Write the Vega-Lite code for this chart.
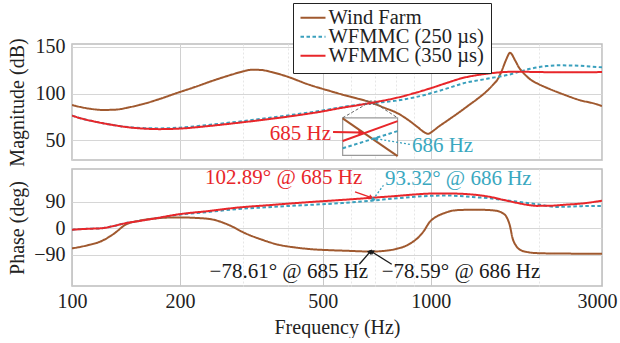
{
  "$schema": "https://vega.github.io/schema/vega-lite/v6.json",
  "padding": {"left": 6, "top": 1, "right": 0, "bottom": 0},
  "spacing": -2,
  "config": {
    "font": "Liberation Serif",
    "view": {"stroke": "#bdbdbd", "strokeWidth": 1.5},
    "axis": {"labelFont": "Liberation Serif", "titleFont": "Liberation Serif", "labelFontSize": 20, "titleFontSize": 20, "titleFontWeight": "normal", "labelColor": "#222", "titleColor": "#222", "domain": false, "ticks": false, "tickSize": 0, "gridColor": "#d6d6d6", "gridWidth": 1},
    "text": {"font": "Liberation Serif", "fontSize": 21}
  },
  "resolve": {"scale": {"color": "independent", "strokeDash": "independent"}},
  "datasets": {
    "mag": [
      {"s":"Wind Farm","f":100,"v":87.8},{"s":"Wind Farm","f":106,"v":85.5},{"s":"Wind Farm","f":113,"v":83.6},{"s":"Wind Farm","f":122,"v":82.5},{"s":"Wind Farm","f":132,"v":82.8},{"s":"Wind Farm","f":145,"v":85.5},{"s":"Wind Farm","f":160,"v":89.5},{"s":"Wind Farm","f":178,"v":95},{"s":"Wind Farm","f":194,"v":100},{"s":"Wind Farm","f":220,"v":107},{"s":"Wind Farm","f":250,"v":114.5},{"s":"Wind Farm","f":280,"v":120.5},{"s":"Wind Farm","f":300,"v":123.8},{"s":"Wind Farm","f":317,"v":125.5},{"s":"Wind Farm","f":335,"v":125.3},{"s":"Wind Farm","f":360,"v":123},{"s":"Wind Farm","f":402,"v":117.6},{"s":"Wind Farm","f":450,"v":110.5},{"s":"Wind Farm","f":524,"v":102.7},{"s":"Wind Farm","f":565,"v":99.1},{"s":"Wind Farm","f":620,"v":95},{"s":"Wind Farm","f":685,"v":90.2},{"s":"Wind Farm","f":740,"v":85},{"s":"Wind Farm","f":803,"v":79.5},{"s":"Wind Farm","f":860,"v":72.5},{"s":"Wind Farm","f":920,"v":64},{"s":"Wind Farm","f":960,"v":58.5},{"s":"Wind Farm","f":984,"v":57},{"s":"Wind Farm","f":1010,"v":59.5},{"s":"Wind Farm","f":1050,"v":64.5},{"s":"Wind Farm","f":1107,"v":70.6},{"s":"Wind Farm","f":1200,"v":80},{"s":"Wind Farm","f":1286,"v":88.5},{"s":"Wind Farm","f":1343,"v":93.8},{"s":"Wind Farm","f":1433,"v":102.7},{"s":"Wind Farm","f":1494,"v":109.8},{"s":"Wind Farm","f":1540,"v":116},{"s":"Wind Farm","f":1575,"v":124},{"s":"Wind Farm","f":1623,"v":136.5},{"s":"Wind Farm","f":1662,"v":143.6},{"s":"Wind Farm","f":1722,"v":134.7},{"s":"Wind Farm","f":1760,"v":128},{"s":"Wind Farm","f":1810,"v":122.2},{"s":"Wind Farm","f":1893,"v":115.2},{"s":"Wind Farm","f":2000,"v":110},{"s":"Wind Farm","f":2104,"v":106.2},{"s":"Wind Farm","f":2343,"v":99.1},{"s":"Wind Farm","f":2600,"v":93},{"s":"Wind Farm","f":2906,"v":88.5},{"s":"Wind Farm","f":3000,"v":86.6},
      {"s":"WFMMC (250 µs)","f":100,"v":76.5},{"s":"WFMMC (250 µs)","f":107,"v":73},{"s":"WFMMC (250 µs)","f":114,"v":70.6},{"s":"WFMMC (250 µs)","f":122,"v":68.3},{"s":"WFMMC (250 µs)","f":132,"v":66},{"s":"WFMMC (250 µs)","f":145,"v":64},{"s":"WFMMC (250 µs)","f":160,"v":63},{"s":"WFMMC (250 µs)","f":175,"v":62.8},{"s":"WFMMC (250 µs)","f":200,"v":63.6},{"s":"WFMMC (250 µs)","f":240,"v":66.5},{"s":"WFMMC (250 µs)","f":291,"v":70},{"s":"WFMMC (250 µs)","f":350,"v":73.8},{"s":"WFMMC (250 µs)","f":420,"v":77.8},{"s":"WFMMC (250 µs)","f":500,"v":82},{"s":"WFMMC (250 µs)","f":565,"v":85.5},{"s":"WFMMC (250 µs)","f":620,"v":87.8},{"s":"WFMMC (250 µs)","f":686,"v":89.8},{"s":"WFMMC (250 µs)","f":803,"v":92.5},{"s":"WFMMC (250 µs)","f":933,"v":97.3},{"s":"WFMMC (250 µs)","f":1100,"v":105},{"s":"WFMMC (250 µs)","f":1233,"v":111},{"s":"WFMMC (250 µs)","f":1433,"v":115.8},{"s":"WFMMC (250 µs)","f":1662,"v":120.5},{"s":"WFMMC (250 µs)","f":1893,"v":126.5},{"s":"WFMMC (250 µs)","f":2104,"v":129.4},{"s":"WFMMC (250 µs)","f":2245,"v":130.2},{"s":"WFMMC (250 µs)","f":2500,"v":130},{"s":"WFMMC (250 µs)","f":2777,"v":129},{"s":"WFMMC (250 µs)","f":3000,"v":128},
      {"s":"WFMMC (350 µs)","f":100,"v":76.5},{"s":"WFMMC (350 µs)","f":107,"v":73},{"s":"WFMMC (350 µs)","f":114,"v":70.6},{"s":"WFMMC (350 µs)","f":122,"v":68.3},{"s":"WFMMC (350 µs)","f":132,"v":66},{"s":"WFMMC (350 µs)","f":145,"v":63.8},{"s":"WFMMC (350 µs)","f":160,"v":62.5},{"s":"WFMMC (350 µs)","f":175,"v":62},{"s":"WFMMC (350 µs)","f":200,"v":62.6},{"s":"WFMMC (350 µs)","f":240,"v":65.3},{"s":"WFMMC (350 µs)","f":291,"v":68.8},{"s":"WFMMC (350 µs)","f":350,"v":72.5},{"s":"WFMMC (350 µs)","f":420,"v":76.5},{"s":"WFMMC (350 µs)","f":500,"v":81},{"s":"WFMMC (350 µs)","f":565,"v":84.8},{"s":"WFMMC (350 µs)","f":620,"v":87.3},{"s":"WFMMC (350 µs)","f":685,"v":90.2},{"s":"WFMMC (350 µs)","f":803,"v":95.5},{"s":"WFMMC (350 µs)","f":900,"v":100.5},{"s":"WFMMC (350 µs)","f":995,"v":105.5},{"s":"WFMMC (350 µs)","f":1100,"v":111},{"s":"WFMMC (350 µs)","f":1233,"v":116.9},{"s":"WFMMC (350 µs)","f":1350,"v":119.8},{"s":"WFMMC (350 µs)","f":1460,"v":121.6},{"s":"WFMMC (350 µs)","f":1594,"v":123},{"s":"WFMMC (350 µs)","f":1750,"v":123.4},{"s":"WFMMC (350 µs)","f":2000,"v":123},{"s":"WFMMC (350 µs)","f":2500,"v":122.7},{"s":"WFMMC (350 µs)","f":3000,"v":123}
    ],
    "phase": [
      {"s":"Wind Farm","f":100,"v":-68},{"s":"Wind Farm","f":110,"v":-58},{"s":"Wind Farm","f":121,"v":-43},{"s":"Wind Farm","f":131,"v":-18},{"s":"Wind Farm","f":141,"v":12},{"s":"Wind Farm","f":155,"v":26},{"s":"Wind Farm","f":170,"v":33},{"s":"Wind Farm","f":185,"v":36},{"s":"Wind Farm","f":200,"v":36.5},{"s":"Wind Farm","f":220,"v":35},{"s":"Wind Farm","f":245,"v":30},{"s":"Wind Farm","f":273,"v":11.5},{"s":"Wind Farm","f":304,"v":-17},{"s":"Wind Farm","f":339,"v":-39},{"s":"Wind Farm","f":377,"v":-56},{"s":"Wind Farm","f":420,"v":-65},{"s":"Wind Farm","f":467,"v":-71},{"s":"Wind Farm","f":520,"v":-74},{"s":"Wind Farm","f":565,"v":-75.5},{"s":"Wind Farm","f":685,"v":-78.6},{"s":"Wind Farm","f":760,"v":-75},{"s":"Wind Farm","f":803,"v":-69.5},{"s":"Wind Farm","f":850,"v":-60},{"s":"Wind Farm","f":893,"v":-45},{"s":"Wind Farm","f":925,"v":-30},{"s":"Wind Farm","f":954,"v":-11},{"s":"Wind Farm","f":995,"v":22.6},{"s":"Wind Farm","f":1040,"v":40},{"s":"Wind Farm","f":1088,"v":50.6},{"s":"Wind Farm","f":1155,"v":59.7},{"s":"Wind Farm","f":1233,"v":62},{"s":"Wind Farm","f":1350,"v":62.5},{"s":"Wind Farm","f":1450,"v":61.5},{"s":"Wind Farm","f":1526,"v":58.7},{"s":"Wind Farm","f":1580,"v":52},{"s":"Wind Farm","f":1623,"v":39.4},{"s":"Wind Farm","f":1660,"v":10},{"s":"Wind Farm","f":1690,"v":-33.7},{"s":"Wind Farm","f":1730,"v":-60},{"s":"Wind Farm","f":1775,"v":-73},{"s":"Wind Farm","f":1850,"v":-80},{"s":"Wind Farm","f":1973,"v":-84},{"s":"Wind Farm","f":2300,"v":-85.5},{"s":"Wind Farm","f":3000,"v":-86},
      {"s":"WFMMC (250 µs)","f":100,"v":-5},{"s":"WFMMC (250 µs)","f":110,"v":-2},{"s":"WFMMC (250 µs)","f":121,"v":0},{"s":"WFMMC (250 µs)","f":131,"v":8},{"s":"WFMMC (250 µs)","f":141,"v":17},{"s":"WFMMC (250 µs)","f":155,"v":25},{"s":"WFMMC (250 µs)","f":170,"v":33},{"s":"WFMMC (250 µs)","f":198,"v":45.5},{"s":"WFMMC (250 µs)","f":240,"v":55},{"s":"WFMMC (250 µs)","f":291,"v":65},{"s":"WFMMC (250 µs)","f":350,"v":71},{"s":"WFMMC (250 µs)","f":400,"v":75},{"s":"WFMMC (250 µs)","f":480,"v":80},{"s":"WFMMC (250 µs)","f":565,"v":85},{"s":"WFMMC (250 µs)","f":686,"v":93.3},{"s":"WFMMC (250 µs)","f":803,"v":101},{"s":"WFMMC (250 µs)","f":900,"v":106},{"s":"WFMMC (250 µs)","f":1000,"v":109.5},{"s":"WFMMC (250 µs)","f":1100,"v":110.5},{"s":"WFMMC (250 µs)","f":1233,"v":108},{"s":"WFMMC (250 µs)","f":1343,"v":104.5},{"s":"WFMMC (250 µs)","f":1460,"v":101},{"s":"WFMMC (250 µs)","f":1590,"v":95.6},{"s":"WFMMC (250 µs)","f":1733,"v":90},{"s":"WFMMC (250 µs)","f":1973,"v":81},{"s":"WFMMC (250 µs)","f":2245,"v":72},{"s":"WFMMC (250 µs)","f":2555,"v":74},{"s":"WFMMC (250 µs)","f":2777,"v":75.5},{"s":"WFMMC (250 µs)","f":3000,"v":75.5},
      {"s":"WFMMC (350 µs)","f":100,"v":-5},{"s":"WFMMC (350 µs)","f":110,"v":-2},{"s":"WFMMC (350 µs)","f":121,"v":0},{"s":"WFMMC (350 µs)","f":131,"v":8},{"s":"WFMMC (350 µs)","f":141,"v":17},{"s":"WFMMC (350 µs)","f":155,"v":25},{"s":"WFMMC (350 µs)","f":170,"v":33},{"s":"WFMMC (350 µs)","f":198,"v":47},{"s":"WFMMC (350 µs)","f":240,"v":58},{"s":"WFMMC (350 µs)","f":291,"v":70},{"s":"WFMMC (350 µs)","f":350,"v":77.5},{"s":"WFMMC (350 µs)","f":400,"v":83},{"s":"WFMMC (350 µs)","f":480,"v":90},{"s":"WFMMC (350 µs)","f":565,"v":95.6},{"s":"WFMMC (350 µs)","f":685,"v":102.9},{"s":"WFMMC (350 µs)","f":803,"v":109},{"s":"WFMMC (350 µs)","f":900,"v":114},{"s":"WFMMC (350 µs)","f":995,"v":117},{"s":"WFMMC (350 µs)","f":1100,"v":117.5},{"s":"WFMMC (350 µs)","f":1233,"v":116},{"s":"WFMMC (350 µs)","f":1350,"v":112},{"s":"WFMMC (350 µs)","f":1460,"v":106},{"s":"WFMMC (350 µs)","f":1590,"v":96},{"s":"WFMMC (350 µs)","f":1733,"v":86},{"s":"WFMMC (350 µs)","f":1893,"v":77.5},{"s":"WFMMC (350 µs)","f":1973,"v":75.5},{"s":"WFMMC (350 µs)","f":2150,"v":76},{"s":"WFMMC (350 µs)","f":2343,"v":79},{"s":"WFMMC (350 µs)","f":2667,"v":84.3},{"s":"WFMMC (350 µs)","f":3000,"v":93}
    ],
    "magAnn": [
      {"g":"insetWF","f":568,"v":73.5},{"g":"insetWF","f":808,"v":33.2},
      {"g":"insetR","f":568,"v":49.3},{"g":"insetR","f":808,"v":70.6},
      {"g":"insetT","f":568,"v":41.5},{"g":"insetT","f":808,"v":59.9},
      {"g":"arrowR","f":534,"v":58.9},{"g":"arrowR","f":636,"v":58.3},
      {"g":"arrowT","f":875,"v":45.7},{"g":"arrowT","f":705,"v":51.7},
      {"g":"conn1","f":659.6,"v":88.5},{"g":"conn1","f":568,"v":74.1},
      {"g":"conn2","f":706.9,"v":88.5},{"g":"conn2","f":808,"v":74.1}
    ],
    "magBox": [
      {"g":"inset","f":568,"f2":808,"v":34,"v2":74.1},
      {"g":"zoom","f":659.6,"f2":706.9,"v":88.5,"v2":92}
    ],
    "magHead": [
      {"g":"arrowR","f":636,"v":58.3},
      {"g":"arrowT","f":705,"v":51.7}
    ],
    "magText": [
      {"g":"R","t":"685 Hz","f":527,"v":56.7},
      {"g":"T","t":"686 Hz","f":886,"v":43.9}
    ],
    "phAnn": [
      {"g":"arrowR","f":615,"v":122.7},{"g":"arrowR","f":680,"v":104},
      {"g":"arrowT","f":738,"v":145},{"g":"arrowT","f":690,"v":97},
      {"g":"arrowK1","f":632,"v":-121.4},{"g":"arrowK1","f":677,"v":-80},
      {"g":"arrowK2","f":778,"v":-121.4},{"g":"arrowK2","f":686,"v":-80}
    ],
    "phHead": [
      {"g":"arrowR","f":680,"v":104},
      {"g":"arrowT","f":690,"v":97},
      {"g":"arrowK1","f":677,"v":-80},
      {"g":"arrowK2","f":686,"v":-80}
    ],
    "phText": [
      {"g":"R","t":"102.89° @ 685 Hz","f":644,"v":171},
      {"g":"T","t":"93.32° @ 686 Hz","f":745,"v":167.5},
      {"g":"K1","t":"−78.61° @ 685 Hz","f":669,"v":-148.3},
      {"g":"K2","t":"−78.59° @ 686 Hz","f":730,"v":-148.3}
    ]
  },
  "vconcat": [
    {
      "width": 530,
      "height": 116,
      "encoding": {
        "x": {"field": "f", "type": "quantitative", "scale": {"type": "log", "domain": [100, 3000], "nice": false},
          "axis": {"values": [100,200,300,400,500,600,700,800,900,1000,2000,3000], "labels": false, "title": null, "minExtent": 0, "maxExtent": 0, "labelPadding": 0, "offset": 0,
            "gridColor": {"condition": {"test": "datum.value==100||datum.value==200||datum.value==500||datum.value==1000||datum.value==3000", "value": "#d0d0d0"}, "value": "#e6e6e6"},
            "gridDash": {"condition": {"test": "datum.value==100||datum.value==200||datum.value==500||datum.value==1000||datum.value==3000", "value": []}, "value": [2, 2]}}},
        "y": {"field": "v", "type": "quantitative", "scale": {"domain": [29, 153], "nice": false, "zero": false},
          "axis": {"values": [50, 100, 150], "title": "Magnitude (dB)", "labelPadding": 7, "minExtent": 37, "maxExtent": 37, "titlePadding": 8}}
      },
      "layer": [
        {
          "data": {"name": "mag"},
          "mark": {"type": "line", "strokeWidth": 2, "interpolate": "monotone", "clip": true},
          "encoding": {
            "color": {"field": "s", "type": "nominal",
              "scale": {"domain": ["Wind Farm", "WFMMC (250 µs)", "WFMMC (350 µs)"], "range": ["#A0592F", "#3AA0BD", "#E8262A"]},
              "legend": {"orient": "none", "legendX": 221, "legendY": -41, "title": null, "symbolType": "stroke", "symbolSize": 625, "symbolStrokeWidth": 2, "labelFont": "Liberation Serif", "labelFontSize": 20.5, "labelColor": "#222", "strokeColor": "#222", "fillColor": "white", "padding": 6.5, "rowPadding": -5, "clipHeight": 16.7, "labelOffset": 2, "labelLimit": 300}},
            "strokeDash": {"field": "s", "type": "nominal",
              "scale": {"domain": ["Wind Farm", "WFMMC (250 µs)", "WFMMC (350 µs)"], "range": [[1, 0], [3.5, 2.5], [1, 0]]},
              "legend": {"orient": "none", "legendX": 221, "legendY": -41, "title": null, "symbolType": "stroke", "symbolSize": 625, "symbolStrokeWidth": 2, "labelFont": "Liberation Serif", "labelFontSize": 20.5, "labelColor": "#222", "strokeColor": "#222", "fillColor": "white", "padding": 6.5, "rowPadding": -5, "clipHeight": 16.7, "labelOffset": 2, "labelLimit": 300}}
          }
        },
        {
          "data": {"name": "magBox"},
          "transform": [{"filter": "datum.g == 'inset'"}],
          "mark": {"type": "rect", "fill": "white", "stroke": "#9a9a9a", "strokeWidth": 1.2},
          "encoding": {"x2": {"field": "f2"}, "y2": {"field": "v2"}}
        },
        {
          "data": {"name": "magBox"},
          "transform": [{"filter": "datum.g == 'zoom'"}],
          "mark": {"type": "rect", "fill": null, "fillOpacity": 0, "stroke": "#666", "strokeWidth": 1, "strokeDash": [2, 2]},
          "encoding": {"x2": {"field": "f2"}, "y2": {"field": "v2"}}
        },
        {
          "data": {"name": "magAnn"},
          "transform": [{"filter": "datum.g == 'conn1' || datum.g == 'conn2'"}],
          "mark": {"type": "line", "color": "#666", "strokeWidth": 1, "strokeDash": [3, 2]},
          "encoding": {"detail": {"field": "g"}}
        },
        {
          "data": {"name": "magAnn"},
          "transform": [{"filter": "datum.g == 'insetWF'"}],
          "mark": {"type": "line", "color": "#A0592F", "strokeWidth": 2},
          "encoding": {}
        },
        {
          "data": {"name": "magAnn"},
          "transform": [{"filter": "datum.g == 'insetR' || datum.g == 'arrowR'"}],
          "mark": {"type": "line", "color": "#E8262A", "strokeWidth": 2},
          "encoding": {"detail": {"field": "g"}}
        },
        {
          "data": {"name": "magAnn"},
          "transform": [{"filter": "datum.g == 'insetT'"}],
          "mark": {"type": "line", "color": "#3AA0BD", "strokeWidth": 2, "strokeDash": [3.5, 2.5]},
          "encoding": {}
        },
        {
          "data": {"name": "magAnn"},
          "transform": [{"filter": "datum.g == 'arrowT'"}],
          "mark": {"type": "line", "color": "#3AA0BD", "strokeWidth": 1.3, "strokeDash": [2, 2]},
          "encoding": {}
        },
        {
          "data": {"name": "magHead"},
          "transform": [{"filter": "datum.g == 'arrowR'"}],
          "mark": {"type": "point", "shape": "triangle", "angle": 90, "size": 40, "filled": true, "color": "#E8262A", "opacity": 1}
        },
        {
          "data": {"name": "magHead"},
          "transform": [{"filter": "datum.g == 'arrowT'"}],
          "mark": {"type": "point", "shape": "triangle", "angle": 282, "size": 30, "filled": true, "color": "#3AA0BD", "opacity": 1}
        },
        {
          "data": {"name": "magText"},
          "transform": [{"filter": "datum.g == 'R'"}],
          "mark": {"type": "text", "align": "right", "baseline": "middle", "color": "#E8262A", "font": "Liberation Serif", "fontSize": 21},
          "encoding": {"text": {"field": "t"}}
        },
        {
          "data": {"name": "magText"},
          "transform": [{"filter": "datum.g == 'T'"}],
          "mark": {"type": "text", "align": "left", "baseline": "middle", "color": "#3AA8C0", "font": "Liberation Serif", "fontSize": 21},
          "encoding": {"text": {"field": "t"}}
        }
      ]
    },
    {
      "width": 530,
      "height": 117,
      "encoding": {
        "x": {"field": "f", "type": "quantitative", "scale": {"type": "log", "domain": [100, 3000], "nice": false},
          "axis": {"values": [100,200,300,400,500,600,700,800,900,1000,2000,3000], "labelExpr": "indexof([100,200,500,1000,3000], datum.value) >= 0 ? '' + datum.value : ''", "labelOverlap": false, "labelFlush": false, "labelPadding": 5, "title": "Frequency (Hz)", "titlePadding": 6,
            "labelOffset": {"condition": {"test": "datum.value==3000", "value": -5}, "value": 0},
            "gridColor": {"condition": {"test": "datum.value==100||datum.value==200||datum.value==500||datum.value==1000||datum.value==3000", "value": "#c8c8c8"}, "value": "#e6e6e6"},
            "gridDash": {"condition": {"test": "datum.value==100||datum.value==200||datum.value==500||datum.value==1000||datum.value==3000", "value": []}, "value": [2, 2]}}},
        "y": {"field": "v", "type": "quantitative", "scale": {"domain": [-195, 200], "nice": false, "zero": false},
          "axis": {"values": [-90, 0, 90], "title": "Phase (deg)", "labelPadding": 7, "minExtent": 37, "maxExtent": 37, "titlePadding": 8}}
      },
      "layer": [
        {
          "data": {"name": "phase"},
          "mark": {"type": "line", "strokeWidth": 2, "interpolate": "monotone", "clip": true},
          "encoding": {
            "color": {"field": "s", "type": "nominal",
              "scale": {"domain": ["Wind Farm", "WFMMC (250 µs)", "WFMMC (350 µs)"], "range": ["#A0592F", "#3AA0BD", "#E8262A"]}, "legend": null},
            "strokeDash": {"field": "s", "type": "nominal",
              "scale": {"domain": ["Wind Farm", "WFMMC (250 µs)", "WFMMC (350 µs)"], "range": [[1, 0], [3.5, 2.5], [1, 0]]}, "legend": null}
          }
        },
        {
          "data": {"name": "phAnn"},
          "transform": [{"filter": "datum.g == 'arrowR'"}],
          "mark": {"type": "line", "color": "#E8262A", "strokeWidth": 1.3},
          "encoding": {}
        },
        {
          "data": {"name": "phAnn"},
          "transform": [{"filter": "datum.g == 'arrowT'"}],
          "mark": {"type": "line", "color": "#3AA0BD", "strokeWidth": 1.3, "strokeDash": [2, 2]},
          "encoding": {}
        },
        {
          "data": {"name": "phAnn"},
          "transform": [{"filter": "datum.g == 'arrowK1' || datum.g == 'arrowK2'"}],
          "mark": {"type": "line", "color": "#1a1a1a", "strokeWidth": 1.3},
          "encoding": {"detail": {"field": "g"}}
        },
        {
          "data": {"name": "phHead"},
          "transform": [{"filter": "datum.g == 'arrowR'"}],
          "mark": {"type": "point", "shape": "triangle", "angle": 108, "size": 30, "filled": true, "color": "#E8262A", "opacity": 1}
        },
        {
          "data": {"name": "phHead"},
          "transform": [{"filter": "datum.g == 'arrowT'"}],
          "mark": {"type": "point", "shape": "triangle", "angle": 218, "size": 25, "filled": true, "color": "#3AA0BD", "opacity": 1}
        },
        {
          "data": {"name": "phHead"},
          "transform": [{"filter": "datum.g == 'arrowK1'"}],
          "mark": {"type": "point", "shape": "triangle", "angle": 40, "size": 30, "filled": true, "color": "#1a1a1a", "opacity": 1}
        },
        {
          "data": {"name": "phHead"},
          "transform": [{"filter": "datum.g == 'arrowK2'"}],
          "mark": {"type": "point", "shape": "triangle", "angle": 302, "size": 30, "filled": true, "color": "#1a1a1a", "opacity": 1}
        },
        {
          "data": {"name": "phText"},
          "transform": [{"filter": "datum.g == 'R'"}],
          "mark": {"type": "text", "align": "right", "baseline": "middle", "color": "#E8262A", "font": "Liberation Serif", "fontSize": 21},
          "encoding": {"text": {"field": "t"}}
        },
        {
          "data": {"name": "phText"},
          "transform": [{"filter": "datum.g == 'T'"}],
          "mark": {"type": "text", "align": "left", "baseline": "middle", "color": "#3AA8C0", "font": "Liberation Serif", "fontSize": 21},
          "encoding": {"text": {"field": "t"}}
        },
        {
          "data": {"name": "phText"},
          "transform": [{"filter": "datum.g == 'K1'"}],
          "mark": {"type": "text", "align": "right", "baseline": "middle", "color": "#1a1a1a", "font": "Liberation Serif", "fontSize": 21},
          "encoding": {"text": {"field": "t"}}
        },
        {
          "data": {"name": "phText"},
          "transform": [{"filter": "datum.g == 'K2'"}],
          "mark": {"type": "text", "align": "left", "baseline": "middle", "color": "#1a1a1a", "font": "Liberation Serif", "fontSize": 21},
          "encoding": {"text": {"field": "t"}}
        }
      ]
    }
  ]
}
